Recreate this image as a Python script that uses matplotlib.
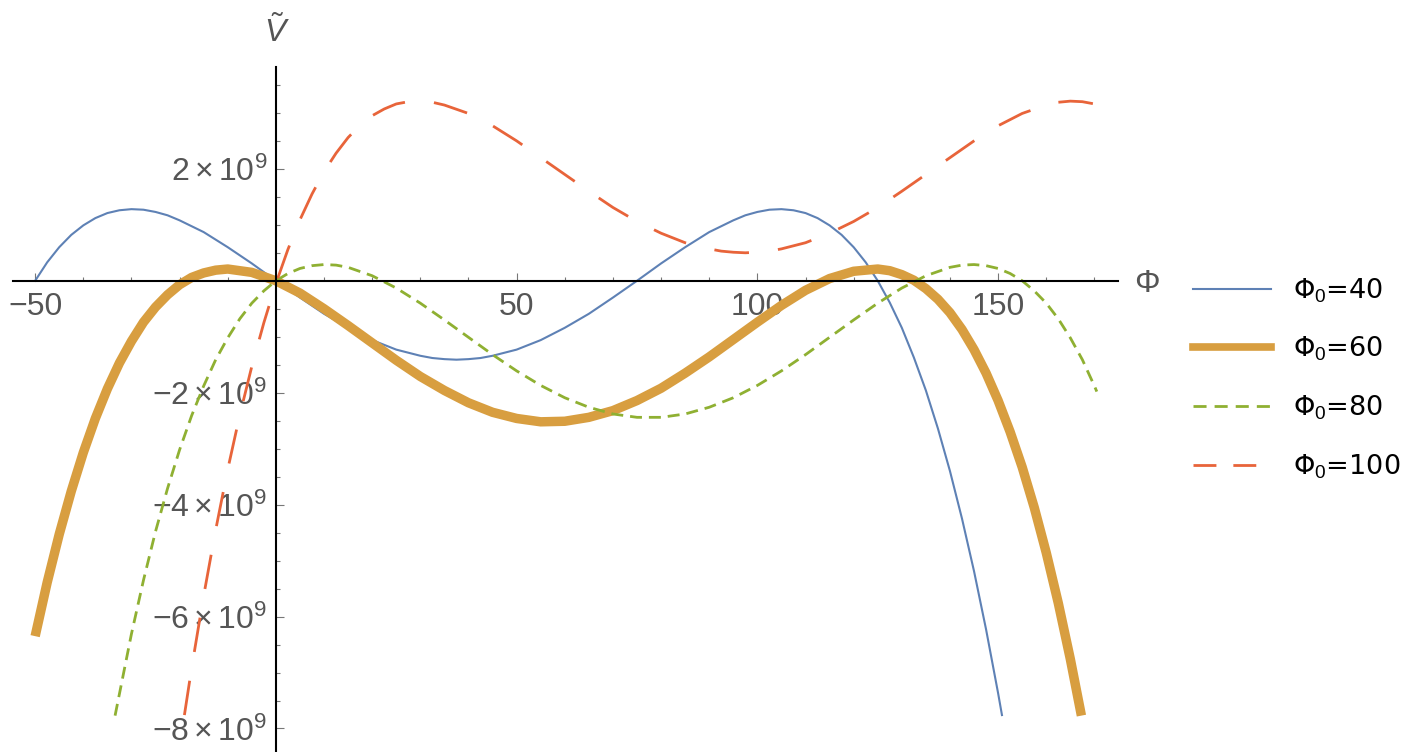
import matplotlib
matplotlib.use("Agg")
import matplotlib.pyplot as plt
from matplotlib.lines import Line2D

plt.rcParams['font.family'] = ['Liberation Sans', 'DejaVu Sans']
plt.rcParams['mathtext.fontset'] = 'custom'
plt.rcParams['mathtext.rm'] = 'Liberation Sans'
plt.rcParams['mathtext.it'] = 'Liberation Sans:italic'
plt.rcParams['mathtext.bf'] = 'Liberation Sans:bold'
plt.rcParams['lines.scale_dashes'] = False

# ---------------- data (V in units of 1e9) ----------------
phi_40 = [-50, -47.5, -45, -42.5, -40, -37.5, -35, -32.5, -30, -27.5, -25, -22.5, -20,
          -15, -10, -5, 0, 5, 10, 15, 20, 25, 30,
          32.5, 35, 37.5, 40, 42.5, 45,
          50, 55, 60, 65, 70, 75, 80, 85, 90, 95,
          97.5, 100, 102.5, 105, 107.5, 110, 112.5, 115, 117.5, 120, 122.5, 125,
          127.5, 130, 132.5, 135, 137.5, 140, 142.5, 145, 147.5, 150, 150.8]
v_40 = [0, 0.33, 0.60, 0.82, 0.99, 1.12, 1.21, 1.26, 1.28, 1.27, 1.23, 1.17, 1.08,
        0.87, 0.60, 0.31, 0, -0.30, -0.59, -0.84, -1.06, -1.23, -1.34,
        -1.38, -1.40, -1.41, -1.40, -1.38, -1.34,
        -1.23, -1.06, -0.84, -0.59, -0.30, 0, 0.31, 0.60, 0.87, 1.08,
        1.17, 1.23, 1.27, 1.28, 1.26, 1.21, 1.12, 0.99, 0.82, 0.60, 0.33, 0,
        -0.39, -0.84, -1.37, -1.96, -2.64, -3.40, -4.25, -5.19, -6.23, -7.37, -7.76]

phi_60 = [-50, -47.5, -45, -42.5, -40, -37.5, -35, -32.5, -30, -27.5, -25, -22.5, -20, -17.5,
          -15, -12.5, -10, -5, 0,
          5, 10, 15, 20, 25, 30, 35, 40, 45, 50, 55, 60, 65, 70, 75, 80, 85, 90, 95, 100,
          105, 110, 115, 120, 125,
          127.5, 130, 132.5, 135, 137.5, 140, 142.5, 145, 147.5, 150, 152.5, 155, 157.5, 160,
          162.5, 165, 167.3]
v_60 = [-6.35, -5.39, -4.53, -3.76, -3.07, -2.46, -1.93, -1.47, -1.08, -0.74, -0.47, -0.25, -0.07, 0.06,
        0.14, 0.19, 0.21, 0.15, 0,
        -0.22, -0.50, -0.80, -1.11, -1.42, -1.71, -1.96, -2.18, -2.35, -2.46, -2.52, -2.51, -2.44, -2.32,
        -2.14, -1.92, -1.65, -1.36, -1.05, -0.74,
        -0.44, -0.17, 0.04, 0.17, 0.21,
        0.18, 0.11, 0.01, -0.14, -0.33, -0.57, -0.87, -1.23, -1.65, -2.14, -2.70, -3.33, -4.05, -4.86,
        -5.76, -6.76, -7.77]

phi_80 = [-33.4, -30, -27.5, -25, -22.5, -20, -17.5, -15, -12.5, -10, -7.5, -5, -2.5, 0,
          2.5, 5, 7.5, 10, 12.5, 15,
          20, 25, 30, 35, 40, 45, 50, 55, 60, 65, 70, 75, 80, 85, 90, 95, 100, 105, 110, 115,
          120, 125, 130, 135, 140,
          142.5, 145, 147.5, 150, 152.5, 155, 157.5, 160, 162.5, 165, 167.5, 170, 170.5]
v_80 = [-7.77, -6.31, -5.35, -4.48, -3.71, -3.02, -2.41, -1.88, -1.41, -1.02, -0.68, -0.40, -0.18, 0,
        0.13, 0.22, 0.27, 0.29, 0.28, 0.24,
        0.09, -0.13, -0.40, -0.70, -1.01, -1.32, -1.61, -1.87, -2.09, -2.26, -2.38, -2.44, -2.44, -2.38,
        -2.26, -2.09, -1.87, -1.61, -1.32, -1.01,
        -0.70, -0.40, -0.13, 0.09, 0.24,
        0.28, 0.29, 0.27, 0.22, 0.13, 0, -0.18, -0.40, -0.68, -1.02, -1.41, -1.88, -1.98]

phi_100 = [-19, -17.5, -15, -12.5, -10, -7.5, -5, -2.5, 0, 2.5, 5, 7.5, 10, 12.5, 15, 17.5,
           20, 22.5, 25, 27.5, 30, 32.5, 35,
           40, 45, 50, 55, 60, 65, 70, 75, 80, 85, 90,
           92.5, 95, 97.5, 100, 102.5,
           105, 110, 115, 120, 125, 130, 135, 140, 145, 150, 155, 160,
           162.5, 165, 167.5, 170]
v_100 = [-7.76, -6.92, -5.63, -4.45, -3.37, -2.40, -1.53, -0.75, -0.05, 0.56, 1.09, 1.55, 1.95, 2.28, 2.56, 2.78,
         2.95, 3.07, 3.16, 3.20, 3.21, 3.19, 3.14,
         2.99, 2.77, 2.50, 2.20, 1.90, 1.60, 1.31, 1.06, 0.85, 0.68, 0.57,
         0.53, 0.51, 0.50, 0.51, 0.53,
         0.57, 0.68, 0.85, 1.06, 1.31, 1.60, 1.90, 2.20, 2.50, 2.77, 2.99, 3.14,
         3.19, 3.21, 3.20, 3.16]

labels = ['Φ$_0$=40', 'Φ$_0$=60', 'Φ$_0$=80', 'Φ$_0$=100']
x_major = [-50, 50, 100, 150]
x_major_labels = ['−50', '50', '100', '150']
y_major = [-8, -6, -4, -2, 2]
y_major_labels = [r'$\mathregular{-8\times10^{9}}$', r'$\mathregular{-6\times10^{9}}$',
                  r'$\mathregular{-4\times10^{9}}$', r'$\mathregular{-2\times10^{9}}$',
                  r'$\mathregular{2\times10^{9}}$']

c_blue = '#5E81B5'
c_orange = '#D89E40'
c_green = '#8FB032'
c_red = '#E8643A'
c_text = '#555555'

W, H = 1412, 752
fig = plt.figure(figsize=(W / 100, H / 100), dpi=100)
ax = fig.add_axes([13 / W, 0, 1105 / W, 685 / H])
ax.set_xlim(-54.6, 174.9)
ax.set_ylim(-8.42, 3.82)

ax.plot(phi_40, v_40, color=c_blue, lw=1.5, solid_joinstyle='round')
ax.plot(phi_60, v_60, color=c_orange, lw=6.8, solid_capstyle='butt', solid_joinstyle='round')
ax.plot(phi_80, v_80, color=c_green, lw=2.0, dashes=(8.6, 5.0))
ax.plot(phi_100, v_100, color=c_red, lw=2.0, dashes=(25, 21))

for s in ['top', 'right']:
    ax.spines[s].set_visible(False)
ax.spines['left'].set_position(('data', 0))
ax.spines['bottom'].set_position(('data', 0))
for s in ['left', 'bottom']:
    ax.spines[s].set_linewidth(1.5)
    ax.spines[s].set_color('black')

ax.set_xticks(x_major)
ax.set_xticklabels(x_major_labels)
ax.set_xticks([v for v in range(-50, 171, 10) if v not in x_major and v != 0], minor=True)
ax.set_yticks(y_major)
ax.set_yticklabels(y_major_labels)
ax.set_yticks([v / 2 for v in range(-16, 8) if v % 4 != 0], minor=True)

ax.tick_params(which='both', direction='in', color='#777777', width=0.8,
               labelsize=23, labelcolor=c_text)
ax.tick_params(which='major', length=5.5)
ax.tick_params(which='minor', length=2.8)
ax.tick_params(axis='x', which='major', pad=8)
ax.tick_params(axis='y', which='major', pad=6)

fig.text(1147 / W, 1 - 284 / H, 'Φ', fontsize=23, color=c_text, ha='center', va='center')
fig.text(277 / W, 1 - 32 / H, r'$\tilde{V}$', fontsize=23, color=c_text, ha='center', va='center')

handles = [Line2D([], [], color=c_blue, lw=1.5),
           Line2D([], [], color=c_orange, lw=5.5),
           Line2D([], [], color=c_green, lw=2.0, dashes=(9.4, 5.8)),
           Line2D([], [], color=c_red, lw=2.0, dashes=(16.5, 12.2))]
leg = fig.legend(handles, labels, loc='center left', bbox_to_anchor=(1193 / W, 1 - 378.5 / H),
                 frameon=False, prop={'family': 'DejaVu Sans', 'size': 19.5},
                 handlelength=2.89, handletextpad=0.82, labelspacing=1.11,
                 borderpad=0, borderaxespad=0)
for t in leg.get_texts():
    t.set_color('black')

fig.savefig('out.png', dpi=100)
